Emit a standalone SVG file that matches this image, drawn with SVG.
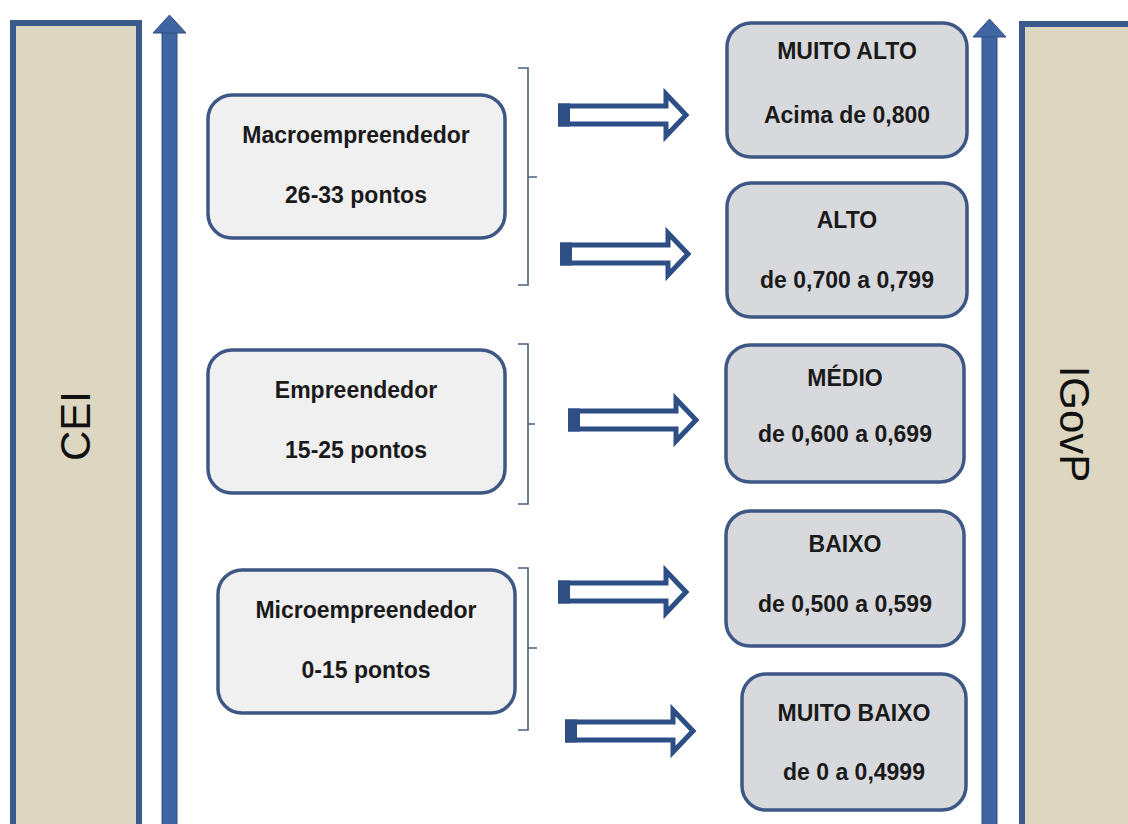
<svg xmlns="http://www.w3.org/2000/svg" width="1128" height="824" viewBox="0 0 1128 824">
<defs>
<style>
.bar{fill:#ddd7c1;stroke:#3b5a8c;stroke-width:6}
.varrow{fill:#3f66a2;stroke:#2f5080;stroke-width:1}
.lbox{fill:#f0f0f1;stroke:#3e5785;stroke-width:3.5}
.rbox{fill:#d8d9dd;stroke:#3e5785;stroke-width:3.5}
.t{font-family:"Liberation Sans",Arial,sans-serif;font-weight:bold;font-size:23px;fill:#1a1a1a;text-anchor:middle}
.big{font-family:"Liberation Sans",Arial,sans-serif;font-size:42px;fill:#111;text-anchor:middle}
.br{fill:none;stroke:#4a5f80;stroke-width:1.6}
.ba{fill:#fff;stroke:#2e4f86;stroke-width:5;stroke-linejoin:miter}
.bt{fill:#2e4f86}
</style>
<g id="blockarrow">
<path class="ba" d="M2.5,-9 H108 V-21 L128,0 L108,21 V9 H2.5 Z"/>
<rect class="bt" x="0" y="-11.5" width="12" height="23"/>
</g>
</defs>
<rect width="1128" height="824" fill="#fff"/>

<g id="cei">
<rect class="bar" x="13" y="23" width="126" height="820"/>
<text class="big" transform="translate(90,426) rotate(-90)">CEI</text>
</g>
<g id="igovp">
<rect class="bar" x="1022" y="24" width="130" height="820"/>
<text class="big" transform="translate(1060,424) rotate(90)">IGovP</text>
</g>

<g id="connectors">
<g id="axis-left">
<rect class="varrow" x="162" y="31" width="15" height="800"/>
<polygon class="varrow" points="153,33 169.5,15 186,33"/>
</g>
<g id="axis-right">
<rect class="varrow" x="982" y="35" width="15" height="800"/>
<polygon class="varrow" points="973,37 989.5,19 1006,37"/>
</g>
<path class="br" d="M518,68 H528 V285 H518 M528,177 H537"/>
<path class="br" d="M518,344 H528 V504 H518 M528,424 H535"/>
<path class="br" d="M518,568 H528 V730 H518 M528,648 H537"/>
<use href="#blockarrow" x="558" y="115"/>
<use href="#blockarrow" x="560" y="254"/>
<use href="#blockarrow" x="568" y="420"/>
<use href="#blockarrow" x="558" y="592"/>
<use href="#blockarrow" x="565" y="731"/>
</g>

<g id="macro">
<rect class="lbox" x="208" y="95" width="297" height="143" rx="24"/>
<text class="t" x="356" y="143">Macroempreendedor</text>
<text class="t" x="356" y="203">26-33 pontos</text>
</g>
<g id="empreendedor">
<rect class="lbox" x="208" y="350" width="297" height="143" rx="24"/>
<text class="t" x="356" y="398">Empreendedor</text>
<text class="t" x="356" y="458">15-25 pontos</text>
</g>
<g id="micro">
<rect class="lbox" x="218" y="570" width="297" height="143" rx="24"/>
<text class="t" x="366" y="618">Microempreendedor</text>
<text class="t" x="366" y="678">0-15 pontos</text>
</g>

<g id="muito-alto">
<rect class="rbox" x="727" y="23" width="240" height="134" rx="24"/>
<text class="t" x="847" y="59">MUITO ALTO</text>
<text class="t" x="847" y="123">Acima de 0,800</text>
</g>
<g id="alto">
<rect class="rbox" x="727" y="183" width="240" height="134" rx="24"/>
<text class="t" x="847" y="228">ALTO</text>
<text class="t" x="847" y="288">de 0,700 a 0,799</text>
</g>
<g id="medio">
<rect class="rbox" x="726" y="345" width="238" height="137" rx="24"/>
<text class="t" x="845" y="386">MÉDIO</text>
<text class="t" x="845" y="442">de 0,600 a 0,699</text>
</g>
<g id="baixo">
<rect class="rbox" x="726" y="511" width="238" height="135" rx="24"/>
<text class="t" x="845" y="552">BAIXO</text>
<text class="t" x="845" y="612">de 0,500 a 0,599</text>
</g>
<g id="muito-baixo">
<rect class="rbox" x="742" y="674" width="224" height="136" rx="24"/>
<text class="t" x="854" y="721">MUITO BAIXO</text>
<text class="t" x="854" y="780">de 0 a 0,4999</text>
</g>
</svg>
